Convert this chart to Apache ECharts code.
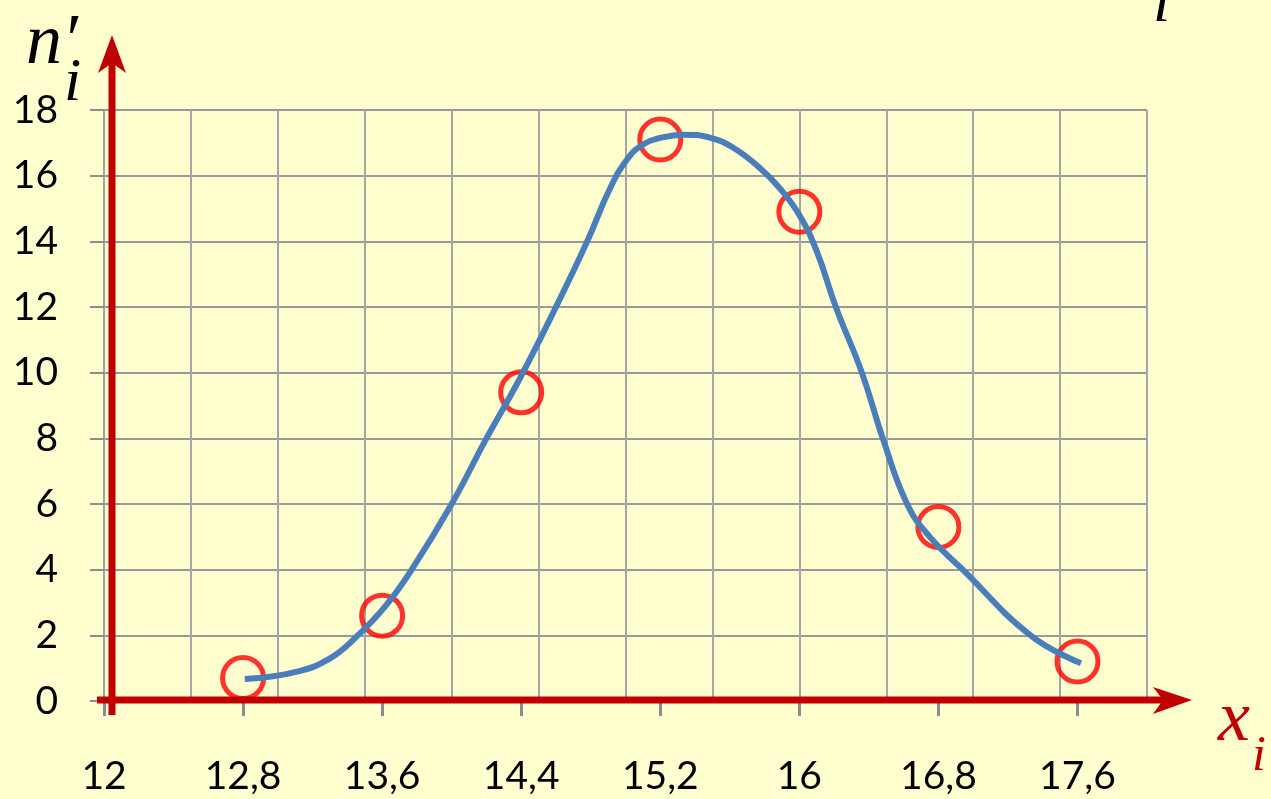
<!DOCTYPE html>
<html>
<head>
<meta charset="utf-8">
<script src="https://cdn.jsdelivr.net/npm/echarts@6/dist/echarts.min.js"></script>
<style>
  html, body { margin: 0; padding: 0; background: #FFFFD0; }
  #chart { width: 1271px; height: 799px; }
</style>
</head>
<body>
<div id="chart"></div>
<script>
// x_i значения (подписи оси)
const xTicks = [12, 12.8, 13.6, 14.4, 15.2, 16, 16.8, 17.6];
// теоретические частоты n'_i
const xPoints = [12.8, 13.6, 14.4, 15.2, 16, 16.8, 17.6];
const nTheor = [0.7, 2.6, 9.4, 17.1, 14.9, 5.3, 1.2];
// выравнивающая кривая
const curveX = [12.81, 13.1, 13.3, 13.46, 13.62, 13.77, 14.0, 14.2, 14.39, 14.6, 14.78, 14.91, 15.01, 15.1, 15.2, 15.33, 15.49, 15.62, 15.77, 15.89, 16.0, 16.1, 16.21, 16.36, 16.48, 16.62, 16.75, 16.94, 17.33, 17.62];
const curveY = [0.67, 0.88, 1.3, 2.0, 2.9, 4.0, 6.0, 8.0, 9.8, 12.0, 14.0, 15.6, 16.5, 16.95, 17.15, 17.25, 17.15, 16.85, 16.25, 15.6, 14.8, 13.7, 12.0, 10.0, 8.0, 6.0, 5.0, 4.0, 2.0, 1.15];

const fmt = v => String(Math.round(v * 10) / 10).replace('.', ',');
const red = '#C00000';

const chart = echarts.init(document.getElementById('chart'));
const option = {
  backgroundColor: '#FFFFD0',
  animation: false,
  grid: { left: 104, right: 124, top: 110, bottom: 98, outerBoundsMode: 'none' },
  xAxis: [
    {
      // сетка через 0,5
      type: 'value',
      position: 'bottom',
      min: 12,
      max: 18,
      interval: 0.5,
      axisLine: { show: true, onZero: false, lineStyle: { color: '#a0a0a0', width: 2 } },
      axisTick: { show: false },
      axisLabel: { show: false },
      splitLine: { show: true, lineStyle: { color: '#a6a6a6', width: 2 } }
    },
    {
      // подписи x_i
      type: 'value',
      position: 'bottom',
      min: 12,
      max: 18,
      interval: 0.8,
      axisLine: { show: false, onZero: false },
      axisTick: { show: true, length: 15, customValues: xTicks, lineStyle: { color: '#8c8c8c', width: 3 } },
      axisLabel: {
        customValues: xTicks,
        formatter: fmt,
        margin: 56,
        color: '#000',
        fontFamily: 'Lato',
        fontSize: 39
      },
      splitLine: { show: false }
    }
  ],
  yAxis: {
    type: 'value',
    min: 0,
    max: 18,
    interval: 2,
    axisLine: { show: true, lineStyle: { color: '#a0a0a0', width: 2 } },
    axisTick: { show: true, length: 14, lineStyle: { color: '#8c8c8c', width: 2 } },
    axisLabel: { margin: 46, color: '#000', fontFamily: 'Lato', fontSize: 39 },
    splitLine: { show: true, lineStyle: { color: '#999', width: 2 } }
  },
  series: [
    {
      type: 'scatter',
      z: 2,
      data: xPoints.map((x, i) => [x, nTheor[i]]),
      symbol: 'circle',
      symbolSize: 41,
      itemStyle: { color: 'transparent', borderColor: '#FF0000', borderWidth: 5 }
    },
    {
      type: 'line',
      z: 3,
      data: curveX.map((x, i) => [x, curveY[i]]),
      smooth: 0.45,
      showSymbol: false,
      lineStyle: { color: '#4A7EBB', width: 6, cap: 'butt' }
    }
  ],
  graphic: [
    // красные оси со стрелками
    { type: 'line', z: 10, shape: { x1: 112, y1: 715, x2: 112, y2: 62 }, style: { stroke: red, lineWidth: 7 } },
    { type: 'polygon', z: 10, shape: { points: [[112, 35], [126, 73], [112, 63], [98, 73]] }, style: { fill: red } },
    { type: 'line', z: 10, shape: { x1: 97, y1: 700, x2: 1165, y2: 700 }, style: { stroke: red, lineWidth: 7 } },
    { type: 'polygon', z: 10, shape: { points: [[1192, 700], [1153, 687], [1163, 700], [1153, 714]] }, style: { fill: red } },
    // подписи осей
    { type: 'text', z: 10, style: { x: 26, y: 44, text: 'n\u2032', fontFamily: 'Liberation Serif', fontStyle: 'italic', fontSize: 72, fill: '#000', textVerticalAlign: 'middle' } },
    { type: 'text', z: 10, style: { x: 64, y: 84, text: 'i', fontFamily: 'Liberation Serif', fontStyle: 'italic', fontSize: 62, fill: '#000', textVerticalAlign: 'middle' } },
    { type: 'text', z: 10, style: { x: 1218, y: 721, text: 'x', fontFamily: 'Liberation Serif', fontStyle: 'italic', fontSize: 72, fill: red, textVerticalAlign: 'middle' } },
    { type: 'text', z: 10, style: { x: 1252, y: 757, text: 'i', fontFamily: 'Liberation Serif', fontStyle: 'italic', fontSize: 50, fill: red, textVerticalAlign: 'middle' } },
    { type: 'text', z: 10, style: { x: 1153, y: 5, text: 'i', fontFamily: 'Liberation Serif', fontStyle: 'italic', fontSize: 62, fill: '#000', textVerticalAlign: 'middle' } }
  ]
};
chart.setOption(option);
</script>
</body>
</html>
